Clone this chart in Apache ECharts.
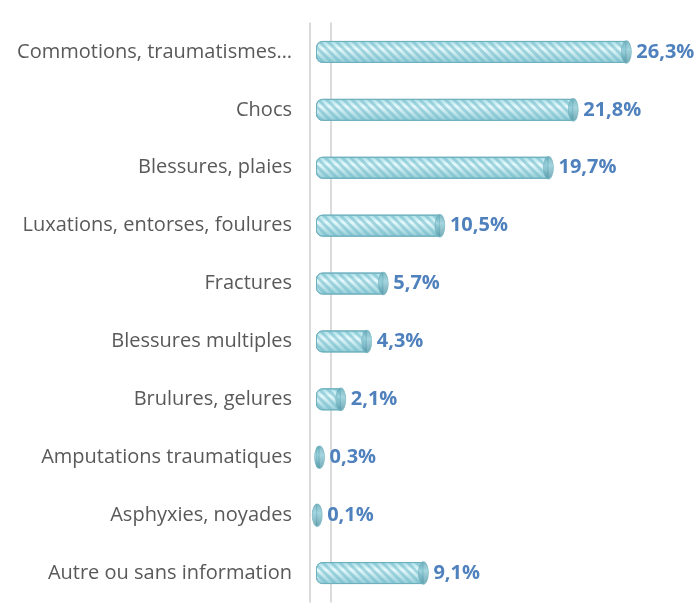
<!DOCTYPE html>
<html>
<head>
<meta charset="utf-8">
<script src="https://cdn.jsdelivr.net/npm/echarts@6/dist/echarts.min.js"></script>
<style>
  html, body { margin: 0; padding: 0; background: #fff; }
  #chart { width: 696px; height: 604px; }
</style>
</head>
<body>
<div id="chart"></div>
<script>
// categories, top to bottom
var categories = [
    'Commotions, traumatismes…',
    'Chocs',
    'Blessures, plaies',
    'Luxations, entorses, foulures',
    'Fractures',
    'Blessures multiples',
    'Brulures, gelures',
    'Amputations traumatiques',
    'Asphyxies, noyades',
    'Autre ou sans information'
];
// pourcentages
var values = [26.3, 21.8, 19.7, 10.5, 5.7, 4.3, 2.1, 0.3, 0.1, 9.1];

function fmt(v) {
    return v.toFixed(1).replace('.', ',') + '%';
}

var myChart = echarts.init(document.getElementById('chart'));
var option = {
    animation: false,
    grid: {
        left: 316,
        right: 26,
        top: 23,
        bottom: 2
    },
    xAxis: {
        type: 'value',
        min: 0,
        max: 30,
        show: false
    },
    yAxis: [{
        // front of the wall
        type: 'category',
        inverse: true,
        data: categories,
        offset: 6,
        axisLine: { show: true, onZero: false, lineStyle: { color: '#cfcfcf', width: 1.5 } },
        axisTick: { show: false },
        axisLabel: {
            color: '#595959',
            fontSize: 20,
            fontFamily: 'Open Sans',
            margin: 18
        }
    }, {
        // back of the wall
        type: 'category',
        inverse: true,
        data: categories,
        position: 'left',
        offset: -15,
        axisLine: { show: true, onZero: false, lineStyle: { color: '#cfcfcf', width: 1.5 } },
        axisTick: { show: false },
        axisLabel: { show: false }
    }],
    series: [{
        type: 'bar',
        data: values,
        barWidth: 22,
        z: 2,
        itemStyle: {
            color: new echarts.graphic.LinearGradient(0, 0, 0, 1, [
                { offset: 0, color: '#a6dce5' },
                { offset: 0.35, color: '#e6f9fc' },
                { offset: 1, color: '#92ccd7' }
            ]),
            borderColor: '#6fb0be',
            borderWidth: 1,
            borderRadius: [6, 0, 0, 6],
            decal: {
                symbol: 'rect',
                dashArrayX: [1, 0],
                dashArrayY: [3, 3],
                rotation: Math.PI / 4,
                color: 'rgba(110,185,200,0.55)'
            }
        },
        label: {
            show: true,
            position: 'right',
            distance: 10,
            color: '#4f81bd',
            fontWeight: 'bold',
            fontSize: 20,
            fontFamily: 'Open Sans',
            formatter: function (p) {
                return fmt(p.value);
            }
        }
    }, {
        // cylinder end caps
        type: 'scatter',
        data: values.map(function (v, i) { return [v, i]; }),
        symbol: 'circle',
        symbolSize: [10, 22],
        z: 3,
        silent: true,
        itemStyle: {
            color: new echarts.graphic.LinearGradient(0, 0, 0, 1, [
                { offset: 0, color: '#5fa6b4' },
                { offset: 0.4, color: '#8fcbd6' },
                { offset: 1, color: '#4f93a2' }
            ]),
            borderColor: '#6fb0be',
            borderWidth: 1
        }
    }]
};
myChart.setOption(option);
</script>
</body>
</html>
